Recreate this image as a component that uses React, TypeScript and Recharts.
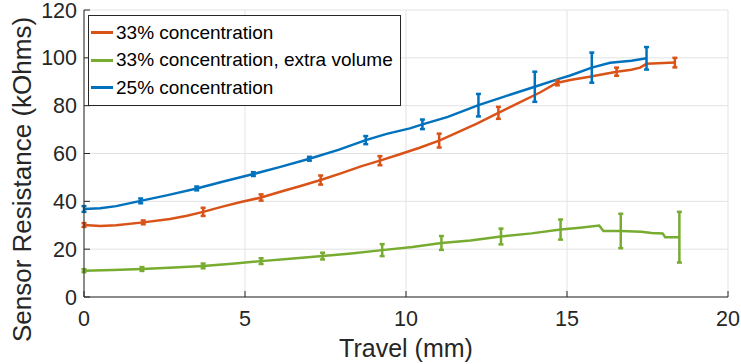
import {
  ComposedChart,
  Line,
  Scatter,
  ErrorBar,
  XAxis,
  YAxis,
  CartesianGrid,
} from 'recharts';

// 33% concentration (orange)
const orangeX = [0, 0.5, 1.0, 1.84, 2.67, 3.2, 3.7, 4.3, 4.84, 5.5, 6.1, 6.7, 7.35, 8.0, 8.6, 9.19, 9.81, 10.4, 11.03, 11.6, 12.2, 12.87, 13.5, 14.16, 14.68, 15.1, 15.7, 16.54, 17.0, 17.27, 17.47, 18.0, 18.35];
const orangeY = [30.1, 29.7, 30.0, 31.2, 32.6, 34.0, 35.6, 37.8, 39.6, 41.6, 44.0, 46.3, 48.9, 51.8, 54.6, 57.0, 59.7, 62.3, 65.4, 68.8, 72.5, 77.0, 81.2, 85.5, 89.5, 90.7, 92.1, 94.2, 95.0, 95.9, 97.5, 97.8, 98.0];

// 33% concentration, extra volume (green)
const greenX = [0, 0.9, 1.8, 2.8, 3.7, 4.6, 5.5, 6.4, 7.41, 8.3, 9.26, 10.2, 11.1, 12.0, 12.95, 13.9, 14.8, 15.4, 16.0, 16.13, 16.67, 17.3, 17.63, 17.97, 18.05, 18.49];
const greenY = [11.0, 11.3, 11.7, 12.3, 13.0, 13.9, 15.0, 16.0, 17.1, 18.2, 19.6, 20.9, 22.6, 23.6, 25.3, 26.6, 28.2, 29.0, 29.9, 27.6, 27.6, 27.3, 26.8, 26.6, 25.0, 25.0];

// 25% concentration (blue)
const blueX = [0, 0.5, 1.0, 1.76, 2.6, 3.5, 4.3, 5.26, 6.1, 7.0, 7.9, 8.75, 9.4, 10.12, 10.51, 11.3, 12.25, 13.1, 14.0, 14.7, 15.1, 15.77, 16.34, 17.0, 17.47];
const blueY = [36.8, 37.1, 38.0, 40.2, 42.6, 45.4, 48.2, 51.4, 54.4, 57.8, 61.5, 65.6, 68.2, 70.5, 72.2, 75.3, 80.2, 84.0, 87.9, 91.0, 92.6, 95.9, 97.9, 98.8, 99.8];

// error bars: position, mean, half-range
const orangeErrX = [0, 1.84, 3.7, 5.5, 7.35, 9.19, 11.03, 12.87, 14.7, 16.54, 18.35];
const orangeErrY = [30.1, 31.2, 35.6, 41.6, 48.9, 57.0, 65.4, 77.0, 89.5, 94.2, 98.0];
const orangeErr = [0.8, 0.8, 1.7, 1.3, 1.9, 1.9, 2.9, 2.5, 1.0, 1.7, 2.0];

const greenErrX = [0, 1.8, 3.7, 5.5, 7.41, 9.26, 11.1, 12.95, 14.8, 16.67, 18.49];
const greenErrY = [11.0, 11.7, 13.0, 15.0, 17.1, 19.6, 22.6, 25.3, 28.2, 27.6, 25.0];
const greenErr = [0.6, 0.8, 1.0, 1.2, 1.4, 2.5, 2.9, 3.3, 4.2, 7.2, 10.6];

const blueErrX = [0, 1.76, 3.5, 5.26, 7.0, 8.75, 10.51, 12.25, 14.0, 15.77, 17.47];
const blueErrY = [36.8, 40.2, 45.4, 51.4, 57.8, 65.6, 72.2, 80.2, 87.9, 95.9, 99.8];
const blueErr = [1.2, 1.0, 0.8, 0.8, 0.8, 1.7, 2.0, 4.7, 6.3, 6.3, 4.7];

const xTicks = [0, 5, 10, 15, 20];
const yTicks = [0, 20, 40, 60, 80, 100, 120];

const seriesNames = ['33% concentration', '33% concentration, extra volume', '25% concentration'];
const seriesColors = ['#D95319', '#77AC30', '#0072BD'];

const FONT = '"Liberation Sans", Arial, Helvetica, sans-serif';
const AXIS = '#262626';

const zipLine = (xs: number[], ys: number[]) => xs.map((x, i) => ({ x, y: ys[i] }));
const zipErr = (xs: number[], ys: number[], es: number[]) =>
  xs.map((x, i) => ({ x, y: ys[i], err: es[i] }));

const lines = [zipLine(orangeX, orangeY), zipLine(greenX, greenY), zipLine(blueX, blueY)];
const errs = [
  zipErr(orangeErrX, orangeErrY, orangeErr),
  zipErr(greenErrX, greenErrY, greenErr),
  zipErr(blueErrX, blueErrY, blueErr),
];

// MATLAB style ticks point into the axes
const BottomTick = (props: any) => {
  const { x, y, payload } = props;
  return (
    <g>
      <line x1={x} y1={y} x2={x} y2={y - 6} stroke={AXIS} strokeWidth={1} />
      <text x={x} y={y + 29} textAnchor="middle" fill={AXIS} fontSize={21.5} fontFamily={FONT}>
        {payload.value}
      </text>
    </g>
  );
};

const LeftTick = (props: any) => {
  const { x, y, payload } = props;
  return (
    <g>
      <line x1={x} y1={y} x2={x + 6} y2={y} stroke={AXIS} strokeWidth={1} />
      <text x={x - 7} y={y + 7.5} textAnchor="end" fill={AXIS} fontSize={21.5} fontFamily={FONT}>
        {payload.value}
      </text>
    </g>
  );
};

const TopTick = (props: any) => {
  const { x, y } = props;
  return <line x1={x} y1={y} x2={x} y2={y + 6} stroke={AXIS} strokeWidth={1} />;
};

const RightTick = (props: any) => {
  const { x, y } = props;
  return <line x1={x} y1={y} x2={x - 6} y2={y} stroke={AXIS} strokeWidth={1} />;
};

const LegendBox = () => (
  <div
    style={{
      position: 'absolute',
      left: 88,
      top: 15,
      border: `1px solid ${AXIS}`,
      background: '#fff',
      padding: '3px 7px 3px 2px',
      fontFamily: FONT,
      fontSize: 19,
      color: '#000',
    }}
  >
    {seriesNames.map((name, i) => (
      <div key={name} style={{ display: 'flex', alignItems: 'center', height: 27.5 }}>
        <span
          style={{
            display: 'inline-block',
            width: 22,
            height: 3,
            background: seriesColors[i],
            marginRight: 3,
          }}
        />
        <span>{name}</span>
      </div>
    ))}
  </div>
);

export default function App() {
  return (
    <div style={{ position: 'absolute', left: 0, top: 0, width: 741, height: 364, background: '#fff' }}>
      <ComposedChart
        width={741}
        height={364}
        margin={{ top: 10, right: 13, left: 0, bottom: 0 }}
      >
        <CartesianGrid stroke="#e3e3e3" strokeWidth={1} horizontalValues={yTicks} verticalValues={xTicks} />
        <XAxis
          type="number"
          dataKey="x"
          domain={[0, 20]}
          ticks={xTicks}
          height={67}
          tickSize={0}
          tickMargin={0}
          tickLine={false}
          axisLine={{ stroke: AXIS }}
          tick={<BottomTick />}
          label={{
            value: 'Travel (mm)',
            position: 'insideBottom',
            offset: 7,
            fill: AXIS,
            fontSize: 25,
            fontFamily: FONT,
          }}
        />
        <XAxis
          xAxisId="top"
          orientation="top"
          type="number"
          domain={[0, 20]}
          ticks={xTicks}
          height={0}
          tickSize={0}
          tickMargin={0}
          tickLine={false}
          axisLine={{ stroke: AXIS }}
          tick={<TopTick />}
        />
        <YAxis
          type="number"
          domain={[0, 120]}
          ticks={yTicks}
          width={84}
          tickSize={0}
          tickMargin={0}
          tickLine={false}
          axisLine={{ stroke: AXIS }}
          tick={<LeftTick />}
          label={{
            value: 'Sensor Resistance (kOhms)',
            angle: -90,
            position: 'center',
            dx: -20,
            dy: 26,
            fill: AXIS,
            fontSize: 26,
            fontFamily: FONT,
          }}
        />
        <YAxis
          yAxisId="right"
          orientation="right"
          type="number"
          domain={[0, 120]}
          ticks={yTicks}
          width={0}
          tickSize={0}
          tickMargin={0}
          tickLine={false}
          axisLine={{ stroke: AXIS }}
          tick={<RightTick />}
        />
        {lines.map((d, i) => (
          <Line
            key={seriesNames[i]}
            data={d}
            dataKey="y"
            name={seriesNames[i]}
            type="linear"
            stroke={seriesColors[i]}
            strokeWidth={2.5}
            dot={false}
            isAnimationActive={false}
          />
        ))}
        {errs.map((d, i) => (
          <Scatter
            key={'err' + i}
            data={d}
            dataKey="y"
            legendType="none"
            shape={() => <g />}
            isAnimationActive={false}
          >
            <ErrorBar
              dataKey="err"
              direction="y"
              width={2.5}
              stroke={seriesColors[i]}
              strokeWidth={2.5}
              isAnimationActive={false}
            />
          </Scatter>
        ))}
      </ComposedChart>
      <LegendBox />
    </div>
  );
}
